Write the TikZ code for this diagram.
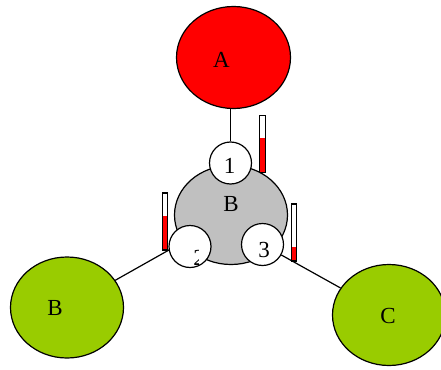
\documentclass[tikz,border=0pt]{standalone}
\usepackage{fontspec}
\setmainfont{Liberation Serif}
\usetikzlibrary{shapes.geometric,calc,backgrounds}
\definecolor{leaf}{RGB}{153,204,0}
\definecolor{hub}{RGB}{192,192,192}
\tikzset{
  blob/.style={ellipse, draw, line width=1.2pt, inner sep=0pt},
  port/.style={circle, draw, fill=white, line width=1.2pt, minimum size=42pt, inner sep=0pt},
  txt/.style={inner sep=0pt, font=\fontsize{23}{23}\selectfont},
  link/.style={line width=1.2pt},
  thermo/.style={draw, fill=white, line width=1.4pt, minimum width=5.5pt,
    minimum height=57pt, inner sep=0pt,
    path picture={\fill[red] (path picture bounding box.south west) rectangle
      ($(path picture bounding box.south east)!#1!(path picture bounding box.north east)$);}}
}
\begin{document}
\begin{tikzpicture}[x=1pt,y=-1pt]
\useasboundingbox (0,0) rectangle (441,369);

% outer nodes
\node[blob, fill=red, minimum width=114pt, minimum height=102pt] (A) at (233.5,57.5) {};
\node[blob, fill=leaf, minimum width=113pt, minimum height=101pt] (Bl) at (67,307.5) {};
\node[blob, fill=leaf, minimum width=113pt, minimum height=101pt] (C) at (389,315) {};

% central node with its three ports
\node[blob, fill=hub, minimum width=113pt, minimum height=99pt] (Bc) at (231,215) {};
\node[port] (p1) at (230.5,163) {};
\node[port] (p2) at (190,246.5) {};
\node[port] (p3) at (262.5,244.5) {};

% connectors, behind the shapes
\begin{scope}[on background layer]
  \draw[link] (p1) -- (p1 |- A.south);
  \draw[link] (Bl.center) -- (Bc.center);
  \draw[link] (p3) -- (C);
\end{scope}

% labels
\node[txt] (Alab) at (221.5,59.5) {A};
\node[txt] (Bllab) at (55,308) {B};
\node[txt] (Clab) at (388,316) {C};
\node[txt] (Bclab) at (231,204.5) {B};
\node[txt] (p1lab) at (229.5,165.5) {1};
\node[txt] (p3lab) at (264,250) {3};
\begin{scope}
  \clip (192.5,246) rectangle (198.5,270);
  \node[txt] (p2lab) at (199,258) {2};
\end{scope}

% level gauges
\node[thermo=0.6] (t1) at (262.5,144) {};
\node[thermo=0.6] (t2) at (165,221.5) {};
\node[thermo=0.24] (t3) at (294,232.5) {};
\end{tikzpicture}
\end{document}
